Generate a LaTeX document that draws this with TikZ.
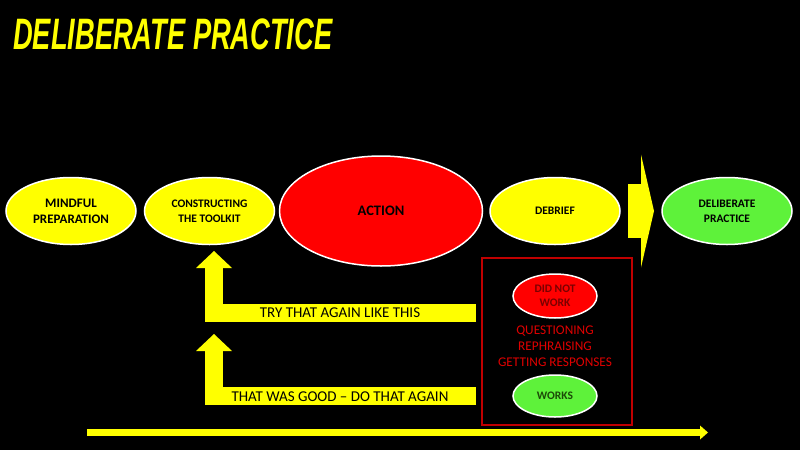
\documentclass[tikz,border=0pt]{standalone}
\usepackage{fontspec}
\setmainfont{Carlito}
\newfontfamily\titlefont[FakeStretch=0.62]{Liberation Sans}
\usetikzlibrary{positioning, arrows.meta, shapes.geometric}
\definecolor{slideyellow}{HTML}{FFFF00}
\definecolor{slidered}{HTML}{FF0000}
\definecolor{slidegreen}{HTML}{5EF23A}
\definecolor{boxred}{HTML}{C00000}
\definecolor{textred}{HTML}{E00000}
\definecolor{darkred}{HTML}{7A0000}
\definecolor{darkgreen}{HTML}{1C4A08}

\begin{document}
\begin{tikzpicture}[x=1pt, y=-1pt,
  stage/.style={ellipse, draw=white, line width=1.5pt, fill=slideyellow,
                minimum width=130pt, minimum height=67pt, inner sep=0pt,
                align=center, font=\bfseries\fontsize{11.5}{15}\selectfont},
  result/.style={ellipse, draw=white, line width=1.5pt, minimum width=84pt,
                 minimum height=44pt, inner sep=0pt, align=center,
                 font=\bfseries\fontsize{11.5}{14}\selectfont},
  feedback/.style={slideyellow, line width=18pt,
                   -{Triangle[width=36pt, length=17pt, line width=0pt]}},
  barlabel/.style={font=\fontsize{15}{16}\selectfont, text=black, inner sep=0pt}
]
\fill[black] (0,0) rectangle (800,450);
\useasboundingbox (0,0) rectangle (800,450);

\node[anchor=base west, inner sep=0pt, text=slideyellow,
      font=\titlefont\bfseries\itshape\fontsize{44}{44}\selectfont]
  (title) at (13,49) {DELIBERATE PRACTICE};

\node[stage, font=\bfseries\fontsize{13}{16}\selectfont] (prep) at (71,211) {MINDFUL\\PREPARATION};
\node[stage, right=7pt of prep] (toolkit) {CONSTRUCTING\\THE TOOLKIT};
\node[stage, fill=slidered, minimum width=203pt, minimum height=110pt,
      font=\bfseries\fontsize{14.5}{16}\selectfont] (action) at (381,211) {ACTION};
\node[stage] (debrief) at (555,211) {DEBRIEF};
\node[stage, fill=slidegreen] (goal) at (727,211) {DELIBERATE\\PRACTICE};

% debrief outcomes
\node[draw=boxred, line width=2pt, minimum width=150pt, minimum height=167pt,
      inner sep=0pt] (outcomes) at (557,341) {};
\node[result, fill=slidered, text=darkred] (notwork) at (555,296) {DID NOT\\WORK};
\node[align=center, text=textred, inner sep=0pt,
      font=\fontsize{13.3}{16}\selectfont] (methods) at (555,346)
  {QUESTIONING\\REPHRAISING\\GETTING RESPONSES};
\node[result, fill=slidegreen, text=darkgreen, minimum height=42pt] (works) at (555,396) {WORKS};

\coordinate (tryend) at (476,312.5);
\coordinate (goodend) at (476,396);
\coordinate (trytip) at (214,251);
\coordinate (goodtip) at (214,334);
\draw[feedback] (tryend) -| (trytip);
\draw[feedback] (goodend) -| (goodtip);
\node[barlabel] (trylabel) at (340,313) {TRY THAT AGAIN LIKE THIS};
\node[barlabel] (goodlabel) at (340,396.5) {THAT WAS GOOD -- DO THAT AGAIN};

% big arrow into deliberate practice
\coordinate (jumpstart) at (628,211);
\coordinate (jumpend) at (654,211);
\draw[slideyellow, line width=54pt,
      -{Triangle[width=113pt, length=13pt, line width=0pt]}] (jumpstart) -- (jumpend);

% time line
\coordinate (timestart) at (87,432.5);
\coordinate (timeend) at (708,432.5);
\draw[slideyellow, line width=7pt,
      -{Triangle[width=14pt, length=8pt, line width=0pt]}] (timestart) -- (timeend);
\end{tikzpicture}
\end{document}
